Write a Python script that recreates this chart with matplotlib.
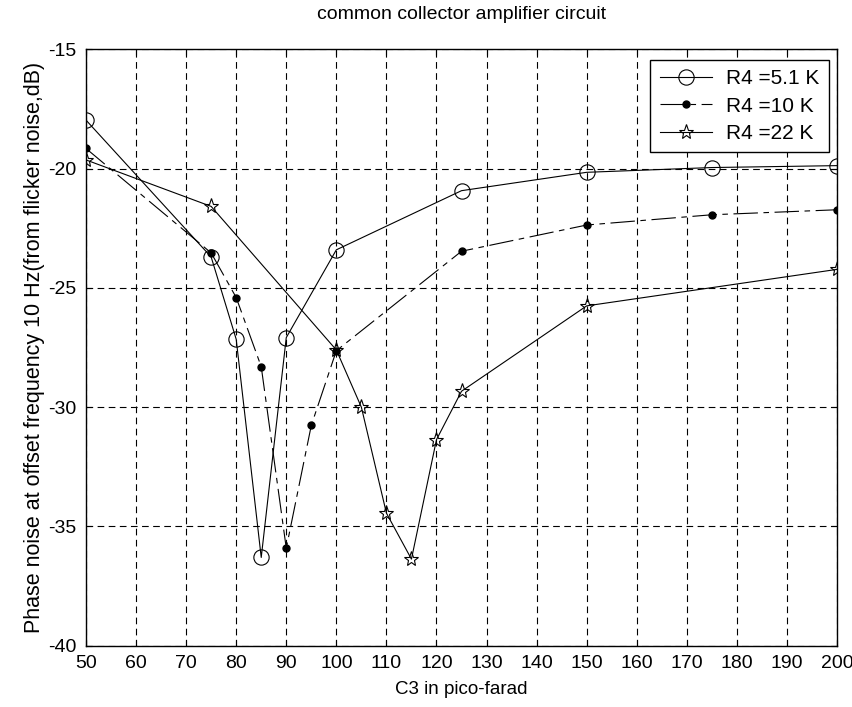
import matplotlib
matplotlib.use("Agg")
import matplotlib.pyplot as plt

plt.rcParams["font.family"] = ["Liberation Sans", "DejaVu Sans"]
plt.rcParams["axes.unicode_minus"] = False

c3_a = [50, 75, 80, 85, 90, 100, 125, 150, 175, 200]
noise_a = [-17.96, -23.7, -27.15, -36.3, -27.08, -23.4, -20.92, -20.15, -19.95, -19.87]

c3_b = [50, 75, 80, 85, 90, 95, 100, 125, 150, 175, 200]
noise_b = [-19.15, -23.53, -25.4, -28.3, -35.91, -30.76, -27.63, -23.46, -22.36, -21.93, -21.72]

c3_c = [50, 75, 100, 105, 110, 115, 120, 125, 150, 200]
noise_c = [-19.63, -21.58, -27.6, -30.0, -34.44, -36.37, -31.36, -29.33, -25.75, -24.22]

labels = ["R4 =5.1 K", "R4 =10 K", "R4 =22 K"]
x_ticks = list(range(50, 201, 10))
y_ticks = [-40, -35, -30, -25, -20, -15]

fig = plt.figure(figsize=(8.53, 7.07), dpi=100)
ax = fig.add_axes([0.1008, 0.0867, 0.8805, 0.8433])

ax.plot(c3_a, noise_a, "-", color="black", lw=0.8, marker="o", ms=11,
        mfc="none", mec="black", mew=0.8, label=labels[0])
ax.plot(c3_b, noise_b, color="black", lw=0.8, ls=(0, (22, 5, 5, 5)), marker="o",
        ms=5, mfc="black", mec="black", label=labels[1])
ax.plot(c3_c, noise_c, "-", color="black", lw=0.8, marker="*", ms=11,
        mfc="none", mec="black", mew=0.8, label=labels[2])

ax.set_xlim(50, 200)
ax.set_ylim(-40, -15)
ax.set_xticks(x_ticks)
ax.set_yticks(y_ticks)
ax.tick_params(direction="in", top=True, right=True, labelsize=14, length=4, pad=7)
ax.grid(True, color="black", ls=(0, (6, 4)), lw=0.8)
for s in ax.spines.values():
    s.set_linewidth(1.0)

ax.set_title("common collector amplifier circuit", fontsize=14, pad=22)
ax.set_xlabel("C3 in pico-farad", fontsize=13.5, labelpad=6)
ax.set_ylabel("Phase noise at offset frequency 10 Hz(from flicker noise,dB)",
              fontsize=15.5, labelpad=2)

leg = ax.legend(loc="upper right", bbox_to_anchor=(829 / 853, 1 - 60 / 707),
                bbox_transform=fig.transFigure, borderaxespad=0, fontsize=15,
                fancybox=False, framealpha=1, edgecolor="black", handlelength=2.5,
                handletextpad=0.7, labelspacing=0.4, borderpad=0.45)
leg.get_frame().set_linewidth(1.0)

fig.savefig("out.png", dpi=100, facecolor="white")
